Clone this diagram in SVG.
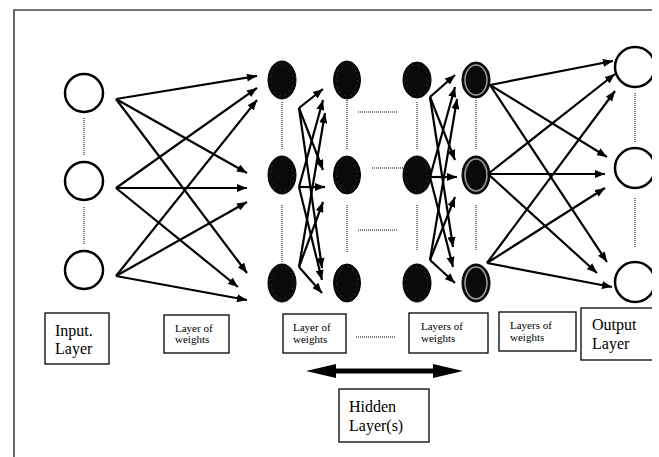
<svg xmlns="http://www.w3.org/2000/svg" width="659" height="457" viewBox="0 0 659 457">
<style>
.frame{fill:none;stroke:#444;stroke-width:1.6}
.in{fill:#fff;stroke:#000;stroke-width:2.5}
.hid{fill:#0a0a0a;stroke:#000;stroke-width:1}
.speck{fill:none;stroke:#fff;stroke-width:0.7;stroke-dasharray:0.7 5;opacity:0.45}
.ring{fill:none;stroke:#999;stroke-width:1.6}
.dot{stroke:#000;stroke-width:1;stroke-dasharray:1 1;fill:none}
.ar{stroke:#000;stroke-width:2.2;fill:none;marker-end:url(#ah)}
.box{fill:#fff;stroke:#000;stroke-width:1.3}
.big{font-family:"Liberation Serif","Times New Roman",serif;font-size:16px;fill:#000}
.sm{font-family:"Liberation Serif","Times New Roman",serif;font-size:11px;fill:#000}
</style>
<defs>
<marker id="ah" viewBox="0 0 10 8" refX="10" refY="4" markerWidth="4.6" markerHeight="3.7" orient="auto">
<path d="M0,0 L10,4 L0,8 z" fill="#000"/>
</marker>
<clipPath id="cp"><rect x="0" y="0" width="652" height="457"/></clipPath>
</defs>
<rect width="659" height="457" fill="#fff"/>
<g clip-path="url(#cp)">
<path class="frame" d="M14,457 L14,10 L652,10"/>

<g id="input-nodes">
<circle class="in" cx="84" cy="93" r="19"/>
<circle class="in" cx="84" cy="181" r="19"/>
<circle class="in" cx="84" cy="270" r="19"/>
<path class="dot" d="M84,118 V155 M84,207 V245"/>
</g>

<g id="hidden-col1">
<ellipse class="hid" cx="282" cy="80" rx="14" ry="19"/>
<ellipse class="speck" cx="282" cy="80" rx="11" ry="16"/>
<ellipse class="hid" cx="282" cy="175" rx="14" ry="19"/>
<ellipse class="speck" cx="282" cy="175" rx="11" ry="16"/>
<ellipse class="hid" cx="282" cy="283" rx="14" ry="19"/>
<ellipse class="speck" cx="282" cy="283" rx="11" ry="16"/>
<path class="dot" d="M282,102 V150 M282,205 V262"/>
</g>

<g id="hidden-col2">
<ellipse class="hid" cx="347" cy="80" rx="13.5" ry="19"/>
<ellipse class="speck" cx="347" cy="80" rx="10.5" ry="16"/>
<ellipse class="hid" cx="347" cy="175" rx="13.5" ry="19"/>
<ellipse class="speck" cx="347" cy="175" rx="10.5" ry="16"/>
<ellipse class="hid" cx="347" cy="283" rx="13.5" ry="19"/>
<ellipse class="speck" cx="347" cy="283" rx="10.5" ry="16"/>
<path class="dot" d="M347,100 V150 M347,205 V252"/>
</g>

<g id="hidden-col3">
<ellipse class="hid" cx="417" cy="80" rx="14" ry="18"/>
<ellipse class="speck" cx="417" cy="80" rx="11" ry="15"/>
<ellipse class="hid" cx="417" cy="175" rx="14" ry="19"/>
<ellipse class="speck" cx="417" cy="175" rx="11" ry="16"/>
<ellipse class="hid" cx="417" cy="283" rx="14" ry="19"/>
<ellipse class="speck" cx="417" cy="283" rx="11" ry="16"/>
<path class="dot" d="M417,102 V150 M417,205 V250"/>
</g>

<g id="hidden-col4">
<ellipse class="hid" cx="476" cy="80" rx="14" ry="18" stroke-width="1.5"/>
<ellipse class="ring" cx="476" cy="80" rx="11" ry="15"/>
<ellipse class="hid" cx="476" cy="175" rx="14" ry="19" stroke-width="1.5"/>
<ellipse class="ring" cx="476" cy="175" rx="11" ry="16"/>
<ellipse class="hid" cx="476" cy="283" rx="14" ry="19" stroke-width="1.5"/>
<ellipse class="ring" cx="476" cy="283" rx="11" ry="16"/>
<path class="dot" d="M476,100 V150 M476,205 V250"/>
</g>

<g id="hidden-gap-dots">
<path class="dot" d="M358,112 H398 M372,168 H403 M358,230 H398"/>
</g>

<g id="output-nodes">
<circle class="in" cx="635" cy="67" r="20"/>
<circle class="in" cx="635" cy="168" r="20"/>
<circle class="in" cx="635" cy="282" r="20"/>
<path class="dot" d="M635,93 V142 M635,198 V247"/>
</g>

<g id="connectors">
<path class="ar" d="M116,99 L257,76"/>
<path class="ar" d="M116,99 L247,173"/>
<path class="ar" d="M116,99 L247,273"/>
<path class="ar" d="M116,188 L257,88"/>
<path class="ar" d="M116,188 L247,188"/>
<path class="ar" d="M116,188 L238,287"/>
<path class="ar" d="M116,276 L257,100"/>
<path class="ar" d="M116,276 L247,202"/>
<path class="ar" d="M116,276 L247,300"/>

<path class="ar" d="M299,108 L323,89"/>
<path class="ar" d="M299,108 L323,170"/>
<path class="ar" d="M299,108 L322,268"/>
<path class="ar" d="M299,187 L323,100"/>
<path class="ar" d="M299,187 L325,187"/>
<path class="ar" d="M299,187 L322,280"/>
<path class="ar" d="M299,267 L325,113"/>
<path class="ar" d="M299,267 L323,202"/>
<path class="ar" d="M299,267 L322,293"/>

<path class="ar" d="M430,97 L455,75"/>
<path class="ar" d="M430,97 L455,160"/>
<path class="ar" d="M430,97 L453,247"/>
<path class="ar" d="M430,177 L455,87"/>
<path class="ar" d="M430,177 L457,177"/>
<path class="ar" d="M430,177 L453,267"/>
<path class="ar" d="M430,260 L457,99"/>
<path class="ar" d="M430,260 L455,197"/>
<path class="ar" d="M430,260 L455,283"/>

<path class="ar" d="M490,85 L613,61"/>
<path class="ar" d="M490,85 L607,157"/>
<path class="ar" d="M490,85 L607,262"/>
<path class="ar" d="M488,174 L615,74"/>
<path class="ar" d="M488,174 L605,174"/>
<path class="ar" d="M488,174 L597,273"/>
<path class="ar" d="M487,263 L615,91"/>
<path class="ar" d="M487,263 L605,188"/>
<path class="ar" d="M487,263 L612,287"/>

<path d="M306,371 L336,364 L336,368.5 L433,368.5 L433,364 L463,371 L433,378 L433,373.5 L336,373.5 L336,378 Z" fill="#000"/>
</g>

<g id="label-input">
<rect class="box" x="45" y="313" width="64" height="51"/>
<text class="big" x="55" y="336">Input.</text>
<text class="big" x="55" y="354">Layer</text>
</g>
<g id="label-weights1">
<rect class="box" x="164" y="315" width="65" height="38"/>
<text class="sm" x="175" y="332">Layer of</text>
<text class="sm" x="175" y="343">weights</text>
</g>
<g id="label-weights2">
<rect class="box" x="283" y="314" width="63" height="39"/>
<text class="sm" x="293" y="331">Layer of</text>
<text class="sm" x="293" y="343">weights</text>
</g>
<path class="dot" d="M356,337 H395"/>
<g id="label-weights3">
<rect class="box" x="409" y="313" width="79" height="40"/>
<text class="sm" x="421" y="330">Layers of</text>
<text class="sm" x="421" y="342">weights</text>
</g>
<g id="label-weights4">
<rect class="box" x="499" y="312" width="77" height="39"/>
<text class="sm" x="510" y="329">Layers of</text>
<text class="sm" x="510" y="341">weights</text>
</g>
<g id="label-output">
<rect class="box" x="581" y="308" width="80" height="52"/>
<text class="big" x="592" y="330">Output</text>
<text class="big" x="592" y="349">Layer</text>
</g>
<g id="label-hidden">
<rect class="box" x="339" y="389" width="90" height="53"/>
<text class="big" x="349" y="412">Hidden</text>
<text class="big" x="349" y="431">Layer(s)</text>
</g>
</g>
</svg>
